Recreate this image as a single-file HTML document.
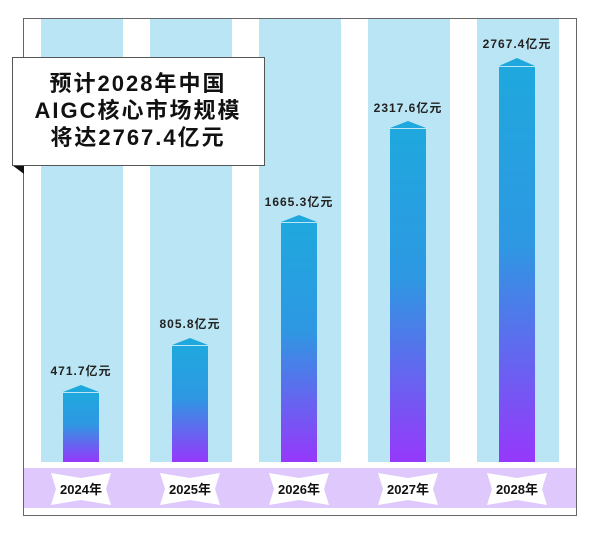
<!DOCTYPE html>
<html><head><meta charset="utf-8"><style>
html,body{margin:0;padding:0;background:#fff;width:600px;height:536px;overflow:hidden}
svg text{font-family:"Liberation Sans","Noto Sans CJK SC",sans-serif;font-weight:bold}
</style></head><body>
<svg width="600" height="536" viewBox="0 0 600 536" xmlns="http://www.w3.org/2000/svg">
<defs>
<linearGradient id="g" x1="0" y1="0" x2="0" y2="1">
<stop offset="0" stop-color="#1fa8de"/><stop offset="0.45" stop-color="#2e98e2"/><stop offset="1" stop-color="#9638fb"/>
</linearGradient>
</defs>
<rect x="23.5" y="18.5" width="553" height="497" fill="#fff" stroke="#666" stroke-width="1"/>
<g fill="#bae5f4">
<rect x="41" y="19" width="82" height="443"/>
<rect x="150" y="19" width="82" height="443"/>
<rect x="259" y="19" width="82" height="443"/>
<rect x="368" y="19" width="82" height="443"/>
<rect x="477" y="19" width="82" height="443"/>
</g>
<rect x="24" y="468" width="552" height="40" fill="#dfc8fb"/>
<g>
<rect x="63" y="393" width="36" height="69" fill="url(#g)"/><polygon points="63,392 81,385 99,392" fill="#1fa8de"/>
<rect x="172" y="346" width="36" height="116" fill="url(#g)"/><polygon points="172,345 190,338 208,345" fill="#1fa8de"/>
<rect x="281" y="223" width="36" height="239" fill="url(#g)"/><polygon points="281,222 299,215 317,222" fill="#1fa8de"/>
<rect x="390" y="129" width="36" height="333" fill="url(#g)"/><polygon points="390,128 408,121 426,128" fill="#1fa8de"/>
<rect x="499" y="67" width="36" height="395" fill="url(#g)"/><polygon points="499,66 517,58 535,66" fill="#1fa8de"/>
</g>
<g font-size="12" fill="#222" text-anchor="middle" letter-spacing="1">
<text x="81" y="375">471.7亿元</text>
<text x="190" y="328">805.8亿元</text>
<text x="299" y="206">1665.3亿元</text>
<text x="408" y="112">2317.6亿元</text>
<text x="517" y="48">2767.4亿元</text>
</g>
<g fill="#fff">
<polygon points="51,473 81,478 111,473 106,489 111,505 81,500 51,505 56,489"/>
<polygon points="160,473 190,478 220,473 215,489 220,505 190,500 160,505 165,489"/>
<polygon points="269,473 299,478 329,473 324,489 329,505 299,500 269,505 274,489"/>
<polygon points="378,473 408,478 438,473 433,489 438,505 408,500 378,505 383,489"/>
<polygon points="487,473 517,478 547,473 542,489 547,505 517,500 487,505 492,489"/>
</g>
<g font-size="13" fill="#111" text-anchor="middle">
<text x="81" y="494">2024年</text>
<text x="190" y="494">2025年</text>
<text x="299" y="494">2026年</text>
<text x="408" y="494">2027年</text>
<text x="517" y="494">2028年</text>
</g>
<polygon points="12,165 24,165 24,174" fill="#111"/>
<rect x="12.5" y="57.5" width="252" height="108" fill="#fff" stroke="#555" stroke-width="1"/>
<g font-size="22" fill="#111" text-anchor="middle" letter-spacing="2">
<text x="138" y="91">预计2028年中国</text>
<text x="138" y="118">AIGC核心市场规模</text>
<text x="138" y="145">将达2767.4亿元</text>
</g>
</svg>
</body></html>
